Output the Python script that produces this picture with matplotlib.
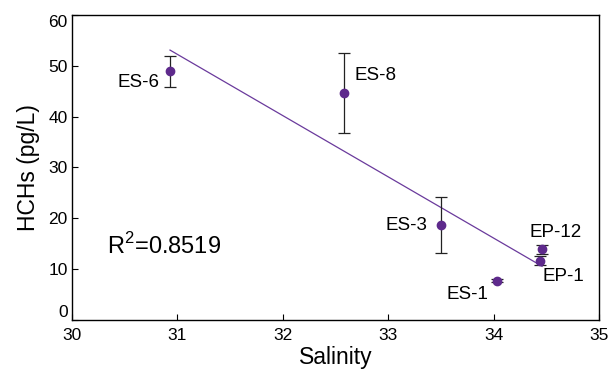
import numpy as np
import matplotlib
matplotlib.use("Agg")
import matplotlib.pyplot as plt

plt.rcParams['font.family'] = ['Liberation Sans', 'DejaVu Sans']
plt.rcParams['mathtext.fontset'] = 'custom'
plt.rcParams['mathtext.rm'] = 'Liberation Sans'

# sample stations
stations = ['ES-6', 'ES-8', 'ES-3', 'ES-1', 'EP-1', 'EP-12']
salinity = np.array([30.93, 32.58, 33.50, 34.03, 34.44, 34.46])
hchs = np.array([48.9, 44.7, 18.7, 7.7, 11.7, 13.9])
hchs_err = np.array([3.0, 7.9, 5.5, 0.3, 0.9, 0.9])
r2_text = r'R$^{\mathregular{2}}$=0.8519'

# label offsets in pixels (dx, dy, ha)
offsets = {'ES-6': (-11, -11, 'right'), 'ES-8': (11, 17, 'left'),
           'ES-3': (-14, -1, 'right'), 'ES-1': (-8, -14, 'right'),
           'EP-1': (3, -16, 'left'), 'EP-12': (-13, 17, 'left')}

fig = plt.figure(figsize=(6.08, 3.79), dpi=100)
ax = fig.add_axes([0.1184, 0.1557, 0.8668, 0.8047])

purple = '#5e2a8c'
ax.errorbar(salinity, hchs, yerr=hchs_err, fmt='none', ecolor='#222222',
            elinewidth=0.9, capsize=4, capthick=0.9, zorder=2)
ax.plot(salinity, hchs, 'o', color=purple, markersize=6, zorder=3)

# linear fit
k, b = np.polyfit(salinity, hchs, 1)
xs = np.array([salinity.min(), salinity.max()])
ax.plot(xs, k * xs + b, color='#6a3a9c', linewidth=0.9, zorder=1)

for name, x, y in zip(stations, salinity, hchs):
    dx, dy, ha = offsets[name]
    ax.annotate(name, (x, y), xytext=(dx, dy), textcoords='offset pixels',
                ha=ha, va='center', fontsize=13.5)

ax.text(30.33, 14.6, r2_text, fontsize=17, va='center', ha='left')

ax.set_xlim(30, 35)
ax.set_ylim(0, 60)
ax.set_xticks([30, 31, 32, 33, 34, 35])
ax.set_yticks([0, 10, 20, 30, 40, 50, 60])
ax.tick_params(direction='in', length=4, labelsize=12.5, width=0.8)
ax.tick_params(axis='x', pad=6)
ax.tick_params(axis='y', pad=3)
ylabels = ax.get_yticklabels()
ylabels[0].set_va('bottom')
ylabels[-1].set_va('top')
for s in ax.spines.values():
    s.set_linewidth(1.0)
ax.set_xlabel('Salinity', fontsize=16.5, labelpad=2)
ax.set_ylabel('HCHs (pg/L)', fontsize=16.5, labelpad=6)

fig.savefig('out.png', dpi=100)
